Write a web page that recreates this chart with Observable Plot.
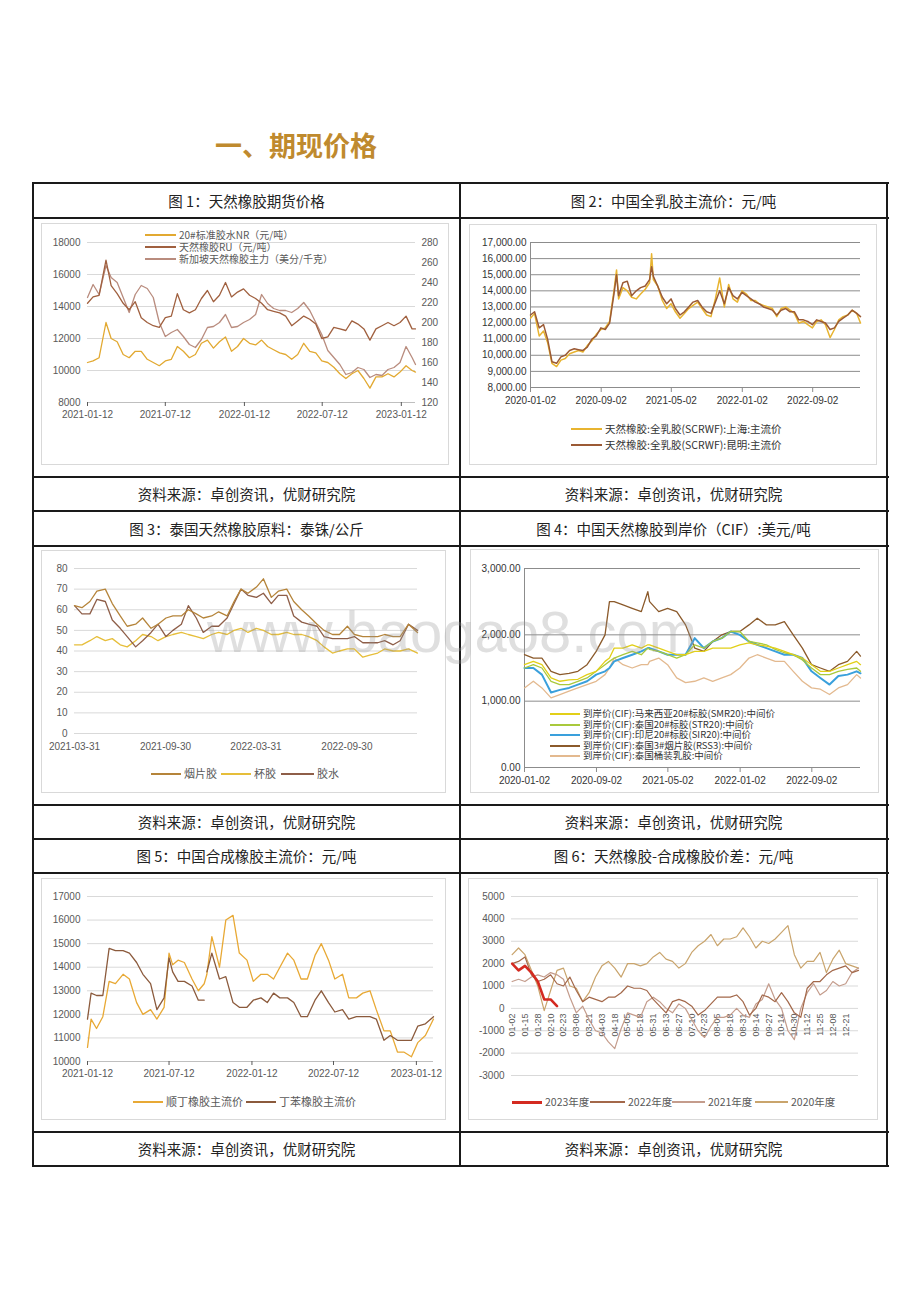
<!DOCTYPE html>
<html><head><meta charset="utf-8">
<script src="https://cdn.jsdelivr.net/npm/d3@7"></script>
<script src="https://cdn.jsdelivr.net/npm/@observablehq/plot@0.6"></script>
<style>
body{margin:0;background:#fff;}
#page{position:relative;width:920px;height:1302px;background:#fff;overflow:hidden;font-family:"Noto Sans CJK SC",sans-serif;}
</style></head>
<body><div id="page"></div>
<script>
// ---------------- DATA ----------------
const pageTitle = "一、期现价格";
const figTitles = ["图 1：天然橡胶期货价格","图 2：中国全乳胶主流价：元/吨","图 3：泰国天然橡胶原料：泰铢/公斤","图 4：中国天然橡胶到岸价（CIF）:美元/吨","图 5：中国合成橡胶主流价：元/吨","图 6：天然橡胶-合成橡胶价差：元/吨"];
const sourceText = "资料来源：卓创资讯，优财研究院";
const watermark = "www.baogao8.com";

// Chart 1
const c1Dates = ["2021-01-12","2021-01-25","2021-02-08","2021-02-24","2021-03-08","2021-03-22","2021-04-05","2021-04-19","2021-05-03","2021-05-17","2021-05-31","2021-06-14","2021-06-28","2021-07-12","2021-07-26","2021-08-09","2021-08-23","2021-09-06","2021-09-20","2021-10-04","2021-10-18","2021-11-01","2021-11-15","2021-11-29","2021-12-13","2021-12-27","2022-01-10","2022-01-24","2022-02-07","2022-02-21","2022-03-07","2022-03-21","2022-04-04","2022-04-18","2022-05-02","2022-05-16","2022-05-30","2022-06-13","2022-06-27","2022-07-11","2022-07-25","2022-08-08","2022-08-22","2022-09-05","2022-09-19","2022-10-03","2022-10-17","2022-10-31","2022-11-14","2022-11-28","2022-12-12","2022-12-26","2023-01-09","2023-01-23","2023-02-06","2023-02-14"];
const c1NR = [10500,10600,10800,13000,12000,11800,11000,10800,11200,11200,10700,10500,10300,10600,10700,11500,11200,10800,11000,11700,11900,11400,11800,12100,11200,11500,12000,11700,11600,11900,11500,11300,11100,11000,10700,11000,11700,11200,11100,10600,10500,10200,9800,9500,9800,10000,9500,8900,9600,9600,9800,9600,9900,10300,10000,9900];
const c1RU = [14200,14600,14700,16900,15300,14800,14200,13800,14300,13300,13000,12800,12700,13300,13400,14800,13800,13600,13800,14500,15000,14300,14700,15500,14600,14900,15100,14700,14500,14200,13800,13700,13600,13400,12800,13100,13400,13200,12900,12000,12100,12700,12600,12500,13100,12900,12600,11900,12600,12800,13000,12800,13000,13400,12600,12600];
const c1SGX = [225,238,228,257,245,240,225,210,228,237,234,225,200,186,190,193,186,178,175,183,195,196,200,208,195,196,200,203,208,228,219,214,212,212,210,214,220,212,200,188,172,165,158,148,150,155,153,145,148,147,153,155,160,176,165,158];
const c1LeftTicks = [8000,10000,12000,14000,16000,18000];
const c1RightTicks = [120,140,160,180,200,220,240,260,280];
const c1XTicks = ["2021-01-12","2021-07-12","2022-01-12","2022-07-12","2023-01-12"];
const c1Names = ["20#标准胶水NR（元/吨）","天然橡胶RU（元/吨）","新加坡天然橡胶主力（美分/千克）"];

// Chart 2
const c2Dates = ["2020-01-02","2020-01-16","2020-02-01","2020-02-16","2020-03-01","2020-03-16","2020-04-01","2020-04-16","2020-05-01","2020-05-16","2020-06-01","2020-06-16","2020-07-01","2020-07-16","2020-08-01","2020-08-16","2020-09-01","2020-09-16","2020-10-01","2020-10-16","2020-10-25","2020-11-01","2020-11-16","2020-12-01","2020-12-16","2021-01-01","2021-01-16","2021-02-01","2021-02-16","2021-02-23","2021-03-01","2021-03-16","2021-04-01","2021-04-16","2021-05-01","2021-05-16","2021-06-01","2021-06-16","2021-07-01","2021-07-16","2021-08-01","2021-08-16","2021-09-01","2021-09-16","2021-10-01","2021-10-16","2021-11-01","2021-11-16","2021-12-01","2021-12-16","2022-01-01","2022-01-16","2022-02-01","2022-02-16","2022-03-01","2022-03-16","2022-04-01","2022-04-16","2022-05-01","2022-05-16","2022-06-01","2022-06-16","2022-07-01","2022-07-16","2022-08-01","2022-08-16","2022-09-01","2022-09-16","2022-10-01","2022-10-16","2022-11-01","2022-11-16","2022-12-01","2022-12-16","2023-01-01","2023-01-16","2023-02-01","2023-02-14"];
const c2Shanghai = [12300,12600,11200,11500,10800,9500,9300,9700,9800,10100,10200,10300,10200,10600,10900,11300,11600,11700,12100,14000,15300,13500,14200,14000,13600,13500,13800,14100,14500,16300,14700,14300,13400,12900,13200,12700,12300,12600,12900,13100,13300,12900,12500,12400,13500,14800,13000,14400,13500,13300,14000,13800,13400,13400,13200,13100,13000,12900,12400,12900,13000,12800,12600,12000,12100,11900,11700,12100,12200,11900,11100,11600,12200,12400,12500,12800,12600,12000];
const c2Kunming = [12500,12700,11700,11900,11000,9600,9500,9900,10000,10300,10400,10350,10300,10500,11000,11200,11700,11600,12000,13800,15000,13700,14500,14600,13700,14000,14200,14300,14700,15500,14900,14300,13600,13200,13500,12900,12500,12700,13000,13300,13400,13000,12700,12600,13300,14000,13200,14200,13700,13500,13900,13700,13500,13300,13200,13000,12900,12800,12500,12800,12900,12700,12700,12200,12200,12100,11900,12200,12100,12000,11600,11700,12100,12300,12500,12800,12600,12400];
const c2YTicks = [8000,9000,10000,11000,12000,13000,14000,15000,16000,17000];
const c2XTicks = ["2020-01-02","2020-09-02","2021-05-02","2022-01-02","2022-09-02"];
const c2Names = ["天然橡胶:全乳胶(SCRWF):上海:主流价","天然橡胶:全乳胶(SCRWF):昆明:主流价"];

// Chart 3
const c3Dates = ["2021-03-31","2021-04-15","2021-05-01","2021-05-15","2021-06-01","2021-06-15","2021-07-01","2021-07-15","2021-08-01","2021-08-15","2021-09-01","2021-09-15","2021-10-01","2021-10-15","2021-11-01","2021-11-15","2021-12-01","2021-12-15","2022-01-01","2022-01-15","2022-02-01","2022-02-15","2022-03-01","2022-03-15","2022-04-01","2022-04-15","2022-05-01","2022-05-15","2022-06-01","2022-06-15","2022-07-01","2022-07-15","2022-08-01","2022-08-15","2022-09-01","2022-09-15","2022-10-01","2022-10-15","2022-11-01","2022-11-15","2022-12-01","2022-12-15","2023-01-01","2023-01-15","2023-02-01","2023-02-19"];
const c3Sheet = [62,61,64,69,70,63,57,52,53,56,51,53,56,57,57,60,58,56,57,59,57,64,70,68,71,75,66,69,70,64,60,57,53,50,48,48,52,48,47,47,47,48,47,47,53,49];
const c3Cup = [43,43,45,47,45,46,43,42,45,48,47,45,47,48,49,48,47,46,48,49,48,50,51,49,51,50,48,48,49,48,48,47,45,42,39,40,41,41,37,38,39,41,40,40,41,39];
const c3Latex = [62,58,58,65,64,55,51,47,42,45,49,53,47,50,53,62,56,49,52,52,56,63,70,67,66,68,63,67,67,57,54,53,52,47,46,46,46,47,44,44,44,45,43,45,53,50];
const c3YTicks = [0,10,20,30,40,50,60,70,80];
const c3XTicks = ["2021-03-31","2021-09-30","2022-03-31","2022-09-30"];
const c3Names = ["烟片胶","杯胶","胶水"];

// Chart 4
const c4Dates = ["2020-01-02","2020-02-01","2020-03-01","2020-04-01","2020-05-01","2020-06-01","2020-07-01","2020-08-01","2020-09-01","2020-10-01","2020-10-16","2020-11-01","2020-12-01","2021-01-01","2021-02-01","2021-02-23","2021-03-01","2021-04-01","2021-05-01","2021-06-01","2021-07-01","2021-08-01","2021-09-01","2021-10-01","2021-11-01","2021-12-01","2022-01-01","2022-02-01","2022-03-01","2022-04-01","2022-05-01","2022-06-01","2022-07-01","2022-08-01","2022-09-01","2022-10-01","2022-11-01","2022-12-01","2023-01-01","2023-02-01","2023-02-14"];
const c4SMR20 = [1550,1600,1550,1350,1300,1320,1330,1400,1450,1600,1650,1800,1800,1850,1800,1850,1850,1800,1750,1700,1700,1750,1750,1800,1800,1800,1850,1880,1850,1830,1800,1750,1700,1650,1550,1450,1450,1500,1550,1600,1550];
const c4STR20 = [1500,1550,1500,1300,1250,1250,1300,1350,1450,1550,1600,1650,1700,1750,1700,1800,1780,1750,1700,1650,1700,1850,1800,1900,1950,2050,2050,1900,1880,1850,1780,1730,1700,1620,1500,1400,1400,1450,1480,1500,1450];
const c4SIR20 = [1500,1500,1400,1130,1170,1200,1250,1300,1400,1450,1500,1600,1650,1700,1750,1800,1800,1750,1700,1700,1700,1950,1800,1900,1950,2050,2000,1900,1850,1800,1750,1700,1700,1650,1450,1350,1250,1380,1400,1450,1420];
const c4RSS3 = [1700,1650,1650,1450,1400,1420,1450,1550,1750,2000,2500,2500,2450,2400,2350,2650,2500,2350,2400,2350,2150,1800,1750,1900,2000,2050,2050,2150,2250,2150,2150,2200,2000,1800,1550,1500,1450,1550,1600,1750,1680];
const c4Latex = [1200,1300,1200,1050,1100,1150,1200,1250,1300,1400,1500,1650,1550,1500,1550,1550,1600,1650,1550,1350,1280,1300,1350,1300,1350,1400,1500,1650,1700,1650,1600,1600,1450,1300,1200,1180,1100,1200,1250,1400,1350];
const c4YTicks = [0,1000,2000,3000];
const c4XTicks = ["2020-01-02","2020-09-02","2021-05-02","2022-01-02","2022-09-02"];
const c4Names = ["到岸价(CIF):马来西亚20#标胶(SMR20):中间价","到岸价(CIF):泰国20#标胶(STR20):中间价","到岸价(CIF):印尼20#标胶(SIR20):中间价","到岸价(CIF):泰国3#烟片胶(RSS3):中间价","到岸价(CIF):泰国桶装乳胶:中间价"];

// Chart 5
const c5Dates = ["2021-01-12","2021-01-20","2021-02-01","2021-02-15","2021-03-01","2021-03-15","2021-04-01","2021-04-15","2021-05-01","2021-05-15","2021-06-01","2021-06-15","2021-07-01","2021-07-12","2021-07-20","2021-08-01","2021-08-15","2021-09-01","2021-09-15","2021-09-28","2021-10-01","2021-10-04","2021-10-15","2021-11-01","2021-11-15","2021-12-01","2021-12-15","2022-01-01","2022-01-15","2022-02-01","2022-02-15","2022-03-01","2022-03-15","2022-04-01","2022-04-15","2022-05-01","2022-05-15","2022-06-01","2022-06-15","2022-07-01","2022-07-15","2022-08-01","2022-08-15","2022-09-01","2022-09-15","2022-10-01","2022-10-15","2022-11-01","2022-11-15","2022-12-01","2022-12-15","2023-01-01","2023-01-15","2023-02-01","2023-02-19"];
const c5BR = [10600,11800,11400,11900,13400,13300,13700,13500,12500,12000,12200,11800,12300,14600,14100,14300,14200,13500,13000,13300,13500,13700,15300,14000,16000,16200,14600,14300,13400,13700,13700,13500,14000,14600,14300,13500,13500,14500,15000,14300,13500,13700,12700,12700,12900,13000,12200,11300,11300,10400,10400,10200,10800,11100,11800];
const c5SBR = [11800,12900,12800,12800,14800,14700,14700,14600,14200,13700,13300,12200,12700,14400,13800,13400,13400,13200,12600,12600,null,13800,14600,13500,13600,12500,12300,12300,12600,12700,12500,12900,12700,12700,12500,11900,11900,12600,13000,12500,12100,12200,11800,11900,11900,11900,11800,10900,11100,10900,10900,10900,11500,11600,11900];
const c5YTicks = [10000,11000,12000,13000,14000,15000,16000,17000];
const c5XTicks = ["2021-01-12","2021-07-12","2022-01-12","2022-07-12","2023-01-12"];
const c5Names = ["顺丁橡胶主流价","丁苯橡胶主流价"];

// Chart 6 (values sampled every half label step along the day-of-year axis)
const c6Labels = ["01-02","01-15","01-28","02-10","02-23","03-08","03-21","04-03","04-18","05-05","05-18","05-31","06-13","06-27","07-10","07-23","08-05","08-18","08-31","09-14","09-27","10-14","10-30","11-12","11-25","12-08","12-21"];
const c6Y2023 = [2000,1700,1900,1600,1200,400,400,100];
const c6Y2022 = [2000,2100,2300,1500,1200,1300,1500,1100,1000,1400,800,300,500,400,300,500,500,700,1000,900,900,800,400,100,-200,300,400,300,100,-300,-100,200,500,500,500,600,300,-300,0,600,500,300,700,300,-200,-400,900,1200,1200,1500,1700,1800,1900,1600,1700];
const c6Y2021 = [1200,1300,1200,1400,1500,1400,1600,1500,1300,500,-200,100,-500,-1000,-1100,-1500,-1800,-900,-200,-300,-400,300,500,300,0,-200,200,0,-500,-1000,-1300,-800,-400,-400,-300,0,-300,-400,200,400,1100,400,0,-1000,-1400,0,700,1100,600,800,1200,1000,1100,1600,1800];
const c6Y2020 = [2400,2700,2400,1700,1000,-100,800,1700,1800,1000,900,300,700,1400,1900,2100,1800,1400,2000,2000,1900,2000,2300,2500,2200,2100,1800,2000,2500,2800,3000,3300,2800,3100,3100,3200,3600,3200,2700,3000,2900,3100,3400,3700,2400,1800,2100,2100,2500,1600,2200,2600,2000,1900,1800];
const c6YTicks = [-3000,-2000,-1000,0,1000,2000,3000,4000,5000];
const c6Names = ["2023年度","2022年度","2021年度","2020年度"];

// ---------------- HELPERS ----------------
const page = document.getElementById("page");
const F = "'Liberation Sans', Arial, sans-serif";
const CJK = "'Noto Sans CJK SC', sans-serif";
const D = s => new Date(s);
const fmtDate = d3.utcFormat("%Y-%m-%d");
const fmt2 = d3.format(",.2f");

function div(css, text) {
  const e = document.createElement("div");
  Object.assign(e.style, {position: "absolute"}, css);
  if (text != null) e.textContent = text;
  page.appendChild(e);
  return e;
}
function box(x, y, w, h) {
  div({left: x + "px", top: y + "px", width: w + "px", height: h + "px", border: "1px solid #D9D9D9", boxSizing: "border-box"});
}
function place(svg, x, y) {
  svg.style.position = "absolute";
  svg.style.left = x + "px";
  svg.style.top = y + "px";
  page.appendChild(svg);
}
function legend(x, y, len, color, w, text, size, tcolor) {
  div({left: x + "px", top: (y - w / 2) + "px", width: len + "px", height: w + "px", background: color});
  div({left: (x + len + 3) + "px", top: (y - size * 0.52) + "px", fontSize: size + "px", lineHeight: (size * 1.04) + "px", color: tcolor, fontFamily: CJK, whiteSpace: "nowrap"}, text);
}
const rows = (dates, vals) => dates.map((d, i) => ({date: D(d), v: vals[i]}));
const baseStyle = (color) => ({fontFamily: F, fontSize: "10px", color, background: "transparent", overflow: "visible"});

// ---------------- PAGE TITLE & TABLE ----------------
div({left: "215px", top: "126px", fontSize: "27px", lineHeight: "38px", fontWeight: "700", color: "#BF8A2E", fontFamily: CJK, whiteSpace: "nowrap"}, pageTitle);

[183, 218, 477, 511, 546, 805, 839, 873, 1132, 1166].forEach(y =>
  div({left: "33px", top: (y - 1) + "px", width: "856px", height: "2px", background: "#1a1a1a"}));
[33, 460, 887].forEach(x =>
  div({left: (x - 1) + "px", top: "182px", width: "2px", height: "985px", background: "#1a1a1a"}));

const colCenters = [246.5, 673.5];
const titleRows = [200.5, 528.5, 856];
const srcRows = [494, 822, 1149];
function cellText(cx, cy, text) {
  div({left: (cx - 200) + "px", width: "400px", top: (cy - 11) + "px", lineHeight: "22px", fontSize: "14.5px", color: "#222", textAlign: "center", fontFamily: CJK, whiteSpace: "nowrap"}, text);
}
figTitles.forEach((t, i) => cellText(colCenters[i % 2], titleRows[Math.floor(i / 2)], t));
srcRows.forEach(y => colCenters.forEach(cx => cellText(cx, y, sourceText)));

// ---------------- CHART 1 ----------------
box(41, 223, 408, 242);
const toLeft = v => 8000 + (v - 120) * 62.5;
const c1 = Plot.plot({
  width: 408, height: 242, marginLeft: 46, marginRight: 34, marginTop: 19, marginBottom: 63,
  style: baseStyle("#595959"),
  x: {type: "utc", domain: [D("2021-01-12"), D("2023-02-14")]},
  y: {domain: [8000, 18000]},
  marks: [
    Plot.gridY(c1LeftTicks.slice(1), {stroke: "#D9D9D9", strokeOpacity: 1}),
    Plot.ruleY([8000], {stroke: "#BFBFBF"}),
    Plot.axisY(c1LeftTicks, {anchor: "left", tickSize: 0, tickPadding: 7, label: null, tickFormat: d => String(d)}),
    Plot.axisY(c1RightTicks.map(toLeft), {anchor: "right", tickSize: 0, tickPadding: 6, label: null, tickFormat: d => String(Math.round(120 + (d - 8000) / 62.5))}),
    Plot.axisX(c1XTicks.map(D), {tickSize: 4, tickPadding: 4, label: null, tickFormat: fmtDate}),
    Plot.line(rows(c1Dates, c1SGX), {x: "date", y: d => toLeft(d.v), stroke: "#B98C7E", strokeWidth: 1.3}),
    Plot.line(rows(c1Dates, c1RU), {x: "date", y: "v", stroke: "#A0603F", strokeWidth: 1.3}),
    Plot.line(rows(c1Dates, c1NR), {x: "date", y: "v", stroke: "#E2A931", strokeWidth: 1.3})
  ]
});
place(c1, 41, 223);
legend(145, 235, 31, "#E2A931", 2, c1Names[0], 10, "#595959");
legend(145, 247, 31, "#A0603F", 2, c1Names[1], 10, "#595959");
legend(145, 259, 31, "#B98C7E", 2, c1Names[2], 10, "#595959");

// ---------------- CHART 2 ----------------
box(469, 224, 408, 241);
const c2 = Plot.plot({
  width: 408, height: 241, marginLeft: 61, marginRight: 17, marginTop: 18, marginBottom: 78,
  style: baseStyle("#333"),
  x: {type: "utc", domain: [D("2020-01-02"), D("2023-02-14")]},
  y: {domain: [8000, 17000]},
  marks: [
    Plot.gridY(c2YTicks, {stroke: "#8C8C8C", strokeOpacity: 1}),
    Plot.ruleX([D("2020-01-02")], {stroke: "#8C8C8C"}),
    Plot.axisY(c2YTicks, {anchor: "left", tickSize: 0, tickPadding: 4, label: null, tickFormat: fmt2}),
    Plot.axisX(c2XTicks.map(D), {tickSize: 5, tickPadding: 4, label: null, tickFormat: fmtDate, stroke: "#8C8C8C"}),
    Plot.line(rows(c2Dates, c2Shanghai), {x: "date", y: "v", stroke: "#E8B430", strokeWidth: 1.5}),
    Plot.line(rows(c2Dates, c2Kunming), {x: "date", y: "v", stroke: "#9B5A35", strokeWidth: 1.5})
  ]
});
place(c2, 469, 224);
legend(571, 429, 31, "#E8B430", 2, c2Names[0], 10.5, "#333");
legend(571, 445, 31, "#9B5A35", 2, c2Names[1], 10.5, "#333");

// ---------------- CHART 3 ----------------
box(41, 550, 405, 243);
const c3 = Plot.plot({
  width: 405, height: 243, marginLeft: 33, marginRight: 29, marginTop: 18, marginBottom: 60,
  style: baseStyle("#595959"),
  x: {type: "utc", domain: [D("2021-03-31"), D("2023-02-19")]},
  y: {domain: [0, 80]},
  marks: [
    Plot.gridY(c3YTicks, {stroke: "#D9D9D9", strokeOpacity: 1}),
    Plot.axisY(c3YTicks, {anchor: "left", tickSize: 0, tickPadding: 7, label: null, tickFormat: d => String(d)}),
    Plot.axisX(c3XTicks.map(D), {tickSize: 0, tickPadding: 9, label: null, tickFormat: fmtDate}),
    Plot.line(rows(c3Dates, c3Cup), {x: "date", y: "v", stroke: "#E6BE3A", strokeWidth: 1.3}),
    Plot.line(rows(c3Dates, c3Latex), {x: "date", y: "v", stroke: "#8E5E48", strokeWidth: 1.3}),
    Plot.line(rows(c3Dates, c3Sheet), {x: "date", y: "v", stroke: "#B5843A", strokeWidth: 1.3})
  ]
});
place(c3, 41, 550);
legend(151, 774, 30, "#B5843A", 2, c3Names[0], 11, "#595959");
legend(221, 774, 30, "#E6BE3A", 2, c3Names[1], 11, "#595959");
legend(281, 774, 33, "#8E5E48", 2, c3Names[2], 11, "#595959");

// ---------------- CHART 4 ----------------
box(470, 549, 409, 244);
const c4 = Plot.plot({
  width: 409, height: 244, marginLeft: 54, marginRight: 19, marginTop: 19, marginBottom: 26,
  style: baseStyle("#333"),
  x: {type: "utc", domain: [D("2020-01-02"), D("2023-02-14")]},
  y: {domain: [0, 3000]},
  marks: [
    Plot.gridY(c4YTicks, {stroke: "#8C8C8C", strokeOpacity: 1}),
    Plot.ruleX([D("2020-01-02")], {stroke: "#8C8C8C"}),
    Plot.axisY(c4YTicks, {anchor: "left", tickSize: 0, tickPadding: 4, label: null, tickFormat: fmt2}),
    Plot.axisX(c4XTicks.map(D), {tickSize: 5, tickPadding: 4, label: null, tickFormat: fmtDate, stroke: "#8C8C8C"}),
    Plot.line(rows(c4Dates, c4Latex), {x: "date", y: "v", stroke: "#E3B98F", strokeWidth: 1.3}),
    Plot.line(rows(c4Dates, c4RSS3), {x: "date", y: "v", stroke: "#8B5A2B", strokeWidth: 1.3}),
    Plot.line(rows(c4Dates, c4SIR20), {x: "date", y: "v", stroke: "#3AA0DC", strokeWidth: 2}),
    Plot.line(rows(c4Dates, c4STR20), {x: "date", y: "v", stroke: "#A9C93C", strokeWidth: 1.3}),
    Plot.line(rows(c4Dates, c4SMR20), {x: "date", y: "v", stroke: "#E2CF18", strokeWidth: 1.3})
  ]
});
place(c4, 470, 549);
const c4Colors = ["#E2CF18", "#A9C93C", "#3AA0DC", "#8B5A2B", "#E3B98F"];
const c4Rows = [714, 724.5, 735, 745.5, 756];
c4Names.forEach((n, i) => legend(550, c4Rows[i], 30, c4Colors[i], 2, n, 9.5, "#333"));

// ---------------- CHART 5 ----------------
box(41, 878, 405, 242);
const c5 = Plot.plot({
  width: 405, height: 242, marginLeft: 46, marginRight: 13, marginTop: 18, marginBottom: 59,
  style: baseStyle("#595959"),
  x: {type: "utc", domain: [D("2021-01-12"), D("2023-02-19")]},
  y: {domain: [10000, 17000]},
  marks: [
    Plot.gridY(c5YTicks.slice(1), {stroke: "#D9D9D9", strokeOpacity: 1}),
    Plot.ruleY([10000], {stroke: "#BFBFBF"}),
    Plot.axisY(c5YTicks, {anchor: "left", tickSize: 0, tickPadding: 7, label: null, tickFormat: d => String(d)}),
    Plot.axisX(c5XTicks.map(D), {tickSize: 4, tickPadding: 4, label: null, tickFormat: fmtDate}),
    Plot.line(rows(c5Dates, c5BR), {x: "date", y: "v", stroke: "#E8A935", strokeWidth: 1.3}),
    Plot.line(rows(c5Dates, c5SBR), {x: "date", y: "v", stroke: "#8B5A3C", strokeWidth: 1.3})
  ]
});
place(c5, 41, 878);
legend(133, 1102, 30, "#E8A935", 2, c5Names[0], 11, "#595959");
legend(246, 1102, 30, "#8B5A3C", 2, c5Names[1], 11, "#595959");

// ---------------- CHART 6 ----------------
box(468, 878, 410, 242);
const halfRows = vals => vals.map((v, i) => ({u: i / 2, v}));
const c6 = Plot.plot({
  width: 410, height: 242, marginLeft: 43, marginRight: 20, marginTop: 18, marginBottom: 45,
  style: baseStyle("#595959"),
  x: {domain: [-0.05, 27], axis: null},
  y: {domain: [-3000, 5000]},
  marks: [
    Plot.gridY(c6YTicks, {stroke: "#D9D9D9", strokeOpacity: 1}),
    Plot.axisY(c6YTicks, {anchor: "left", tickSize: 0, tickPadding: 7, label: null, tickFormat: d => String(d)}),
    Plot.text(c6Labels, {x: (d, i) => i, y: 0, text: d => d, rotate: -90, textAnchor: "end", dy: 5, fontSize: 9, fill: "#595959"}),
    Plot.line(halfRows(c6Y2020), {x: "u", y: "v", stroke: "#C9A46C", strokeWidth: 1.2}),
    Plot.line(halfRows(c6Y2021), {x: "u", y: "v", stroke: "#C49C8C", strokeWidth: 1.2}),
    Plot.line(halfRows(c6Y2022), {x: "u", y: "v", stroke: "#A3684A", strokeWidth: 1.2}),
    Plot.line(halfRows(c6Y2023), {x: "u", y: "v", stroke: "#D42A20", strokeWidth: 2.6})
  ]
});
place(c6, 468, 878);
legend(512, 1102, 30, "#D42A20", 3, c6Names[0], 10.5, "#595959");
legend(590, 1102, 35, "#A3684A", 2, c6Names[1], 10.5, "#595959");
legend(672, 1102, 33, "#C49C8C", 2, c6Names[2], 10.5, "#595959");
legend(755, 1102, 33, "#C9A46C", 2, c6Names[3], 10.5, "#595959");

// ---------------- WATERMARK ----------------
div({left: "207px", top: "603px", fontSize: "58px", lineHeight: "58px", fontFamily: F, color: "rgba(150,150,150,0.3)", whiteSpace: "nowrap", pointerEvents: "none"}, watermark);
</script>
</body></html>
